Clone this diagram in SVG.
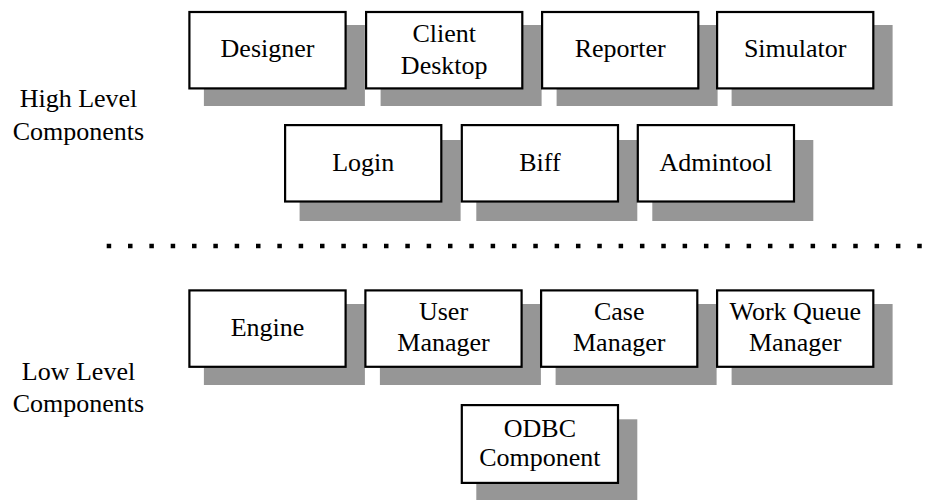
<svg xmlns="http://www.w3.org/2000/svg" width="937" height="500" viewBox="0 0 937 500">
  <style>
    .shadow { fill: #969696; }
    .box { fill: #ffffff; stroke: #000000; stroke-width: 2.2; }
    .lbl { font-family: 'Liberation Serif', 'DejaVu Serif', serif; font-size: 26px; fill: #000000; text-anchor: middle; }
    .sep { stroke: #000000; stroke-width: 4.5; stroke-dasharray: 4.5 16.83; fill: none; }
  </style>
  <rect width="937" height="500" fill="#ffffff"/>

  <!-- layer captions -->
  <g id="caption-high">
    <text class="lbl" font-family="Liberation Serif, serif" x="78.5" y="107">High Level</text>
    <text class="lbl" font-family="Liberation Serif, serif" x="78.5" y="139.5">Components</text>
  </g>
  <g id="caption-low">
    <text class="lbl" font-family="Liberation Serif, serif" x="78.5" y="380">Low Level</text>
    <text class="lbl" font-family="Liberation Serif, serif" x="78.5" y="411.5">Components</text>
  </g>

  <!-- separator between the two layers -->
  <g id="separator">
    <line class="sep" x1="106.7" y1="246" x2="925" y2="246"/>
  </g>

  <!-- high level components, first row -->
  <g id="designer">
    <rect class="shadow" x="203.9" y="25" width="161" height="81"/>
    <rect class="box" x="189.4" y="12" width="156.2" height="76.4"/>
    <text class="lbl" x="267.5" y="57">Designer</text>
  </g>
  <g id="client-desktop">
    <rect class="shadow" x="380.6" y="25" width="161" height="81"/>
    <rect class="box" x="366.1" y="12" width="156.2" height="76.4"/>
    <text class="lbl" x="444.2" y="42">Client</text>
    <text class="lbl" x="444.2" y="73.5">Desktop</text>
  </g>
  <g id="reporter">
    <rect class="shadow" x="556.6" y="25" width="161" height="81"/>
    <rect class="box" x="542.1" y="12" width="156.2" height="76.4"/>
    <text class="lbl" x="620.2" y="57">Reporter</text>
  </g>
  <g id="simulator">
    <rect class="shadow" x="731.6" y="25" width="161" height="81"/>
    <rect class="box" x="717.1" y="12" width="156.2" height="76.4"/>
    <text class="lbl" x="795.2" y="57">Simulator</text>
  </g>

  <!-- high level components, second row -->
  <g id="login">
    <rect class="shadow" x="299.6" y="140" width="161" height="81"/>
    <rect class="box" x="285.1" y="125.1" width="156.2" height="76.4"/>
    <text class="lbl" x="363.2" y="171">Login</text>
  </g>
  <g id="biff">
    <rect class="shadow" x="476.3" y="140" width="161" height="81"/>
    <rect class="box" x="461.8" y="125.1" width="156.2" height="76.4"/>
    <text class="lbl" x="539.9" y="171">Biff</text>
  </g>
  <g id="admintool">
    <rect class="shadow" x="652.3" y="140" width="161" height="81"/>
    <rect class="box" x="637.8" y="125.1" width="156.2" height="76.4"/>
    <text class="lbl" x="715.9" y="171">Admintool</text>
  </g>

  <!-- low level components, first row -->
  <g id="engine">
    <rect class="shadow" x="203.9" y="304" width="161" height="81"/>
    <rect class="box" x="189.4" y="290.4" width="156.2" height="76.4"/>
    <text class="lbl" x="267.5" y="335.5">Engine</text>
  </g>
  <g id="user-manager">
    <rect class="shadow" x="379.9" y="304" width="161" height="81"/>
    <rect class="box" x="365.4" y="290.4" width="156.2" height="76.4"/>
    <text class="lbl" x="443.5" y="320.3">User</text>
    <text class="lbl" x="443.5" y="351">Manager</text>
  </g>
  <g id="case-manager">
    <rect class="shadow" x="555.6" y="304" width="161" height="81"/>
    <rect class="box" x="541.1" y="290.4" width="156.2" height="76.4"/>
    <text class="lbl" x="619.2" y="320.3">Case</text>
    <text class="lbl" x="619.2" y="351">Manager</text>
  </g>
  <g id="work-queue-manager">
    <rect class="shadow" x="731.6" y="304" width="161" height="81"/>
    <rect class="box" x="717.1" y="290.4" width="156.2" height="76.4"/>
    <text class="lbl" x="795.2" y="320.3">Work Queue</text>
    <text class="lbl" x="795.2" y="351">Manager</text>
  </g>

  <!-- low level components, second row -->
  <g id="odbc-component">
    <rect class="shadow" x="476.3" y="419.3" width="161" height="81"/>
    <rect class="box" x="461.8" y="405.1" width="156.2" height="77.8"/>
    <text class="lbl" x="539.9" y="436.5">ODBC</text>
    <text class="lbl" x="539.9" y="466">Component</text>
  </g>
</svg>
